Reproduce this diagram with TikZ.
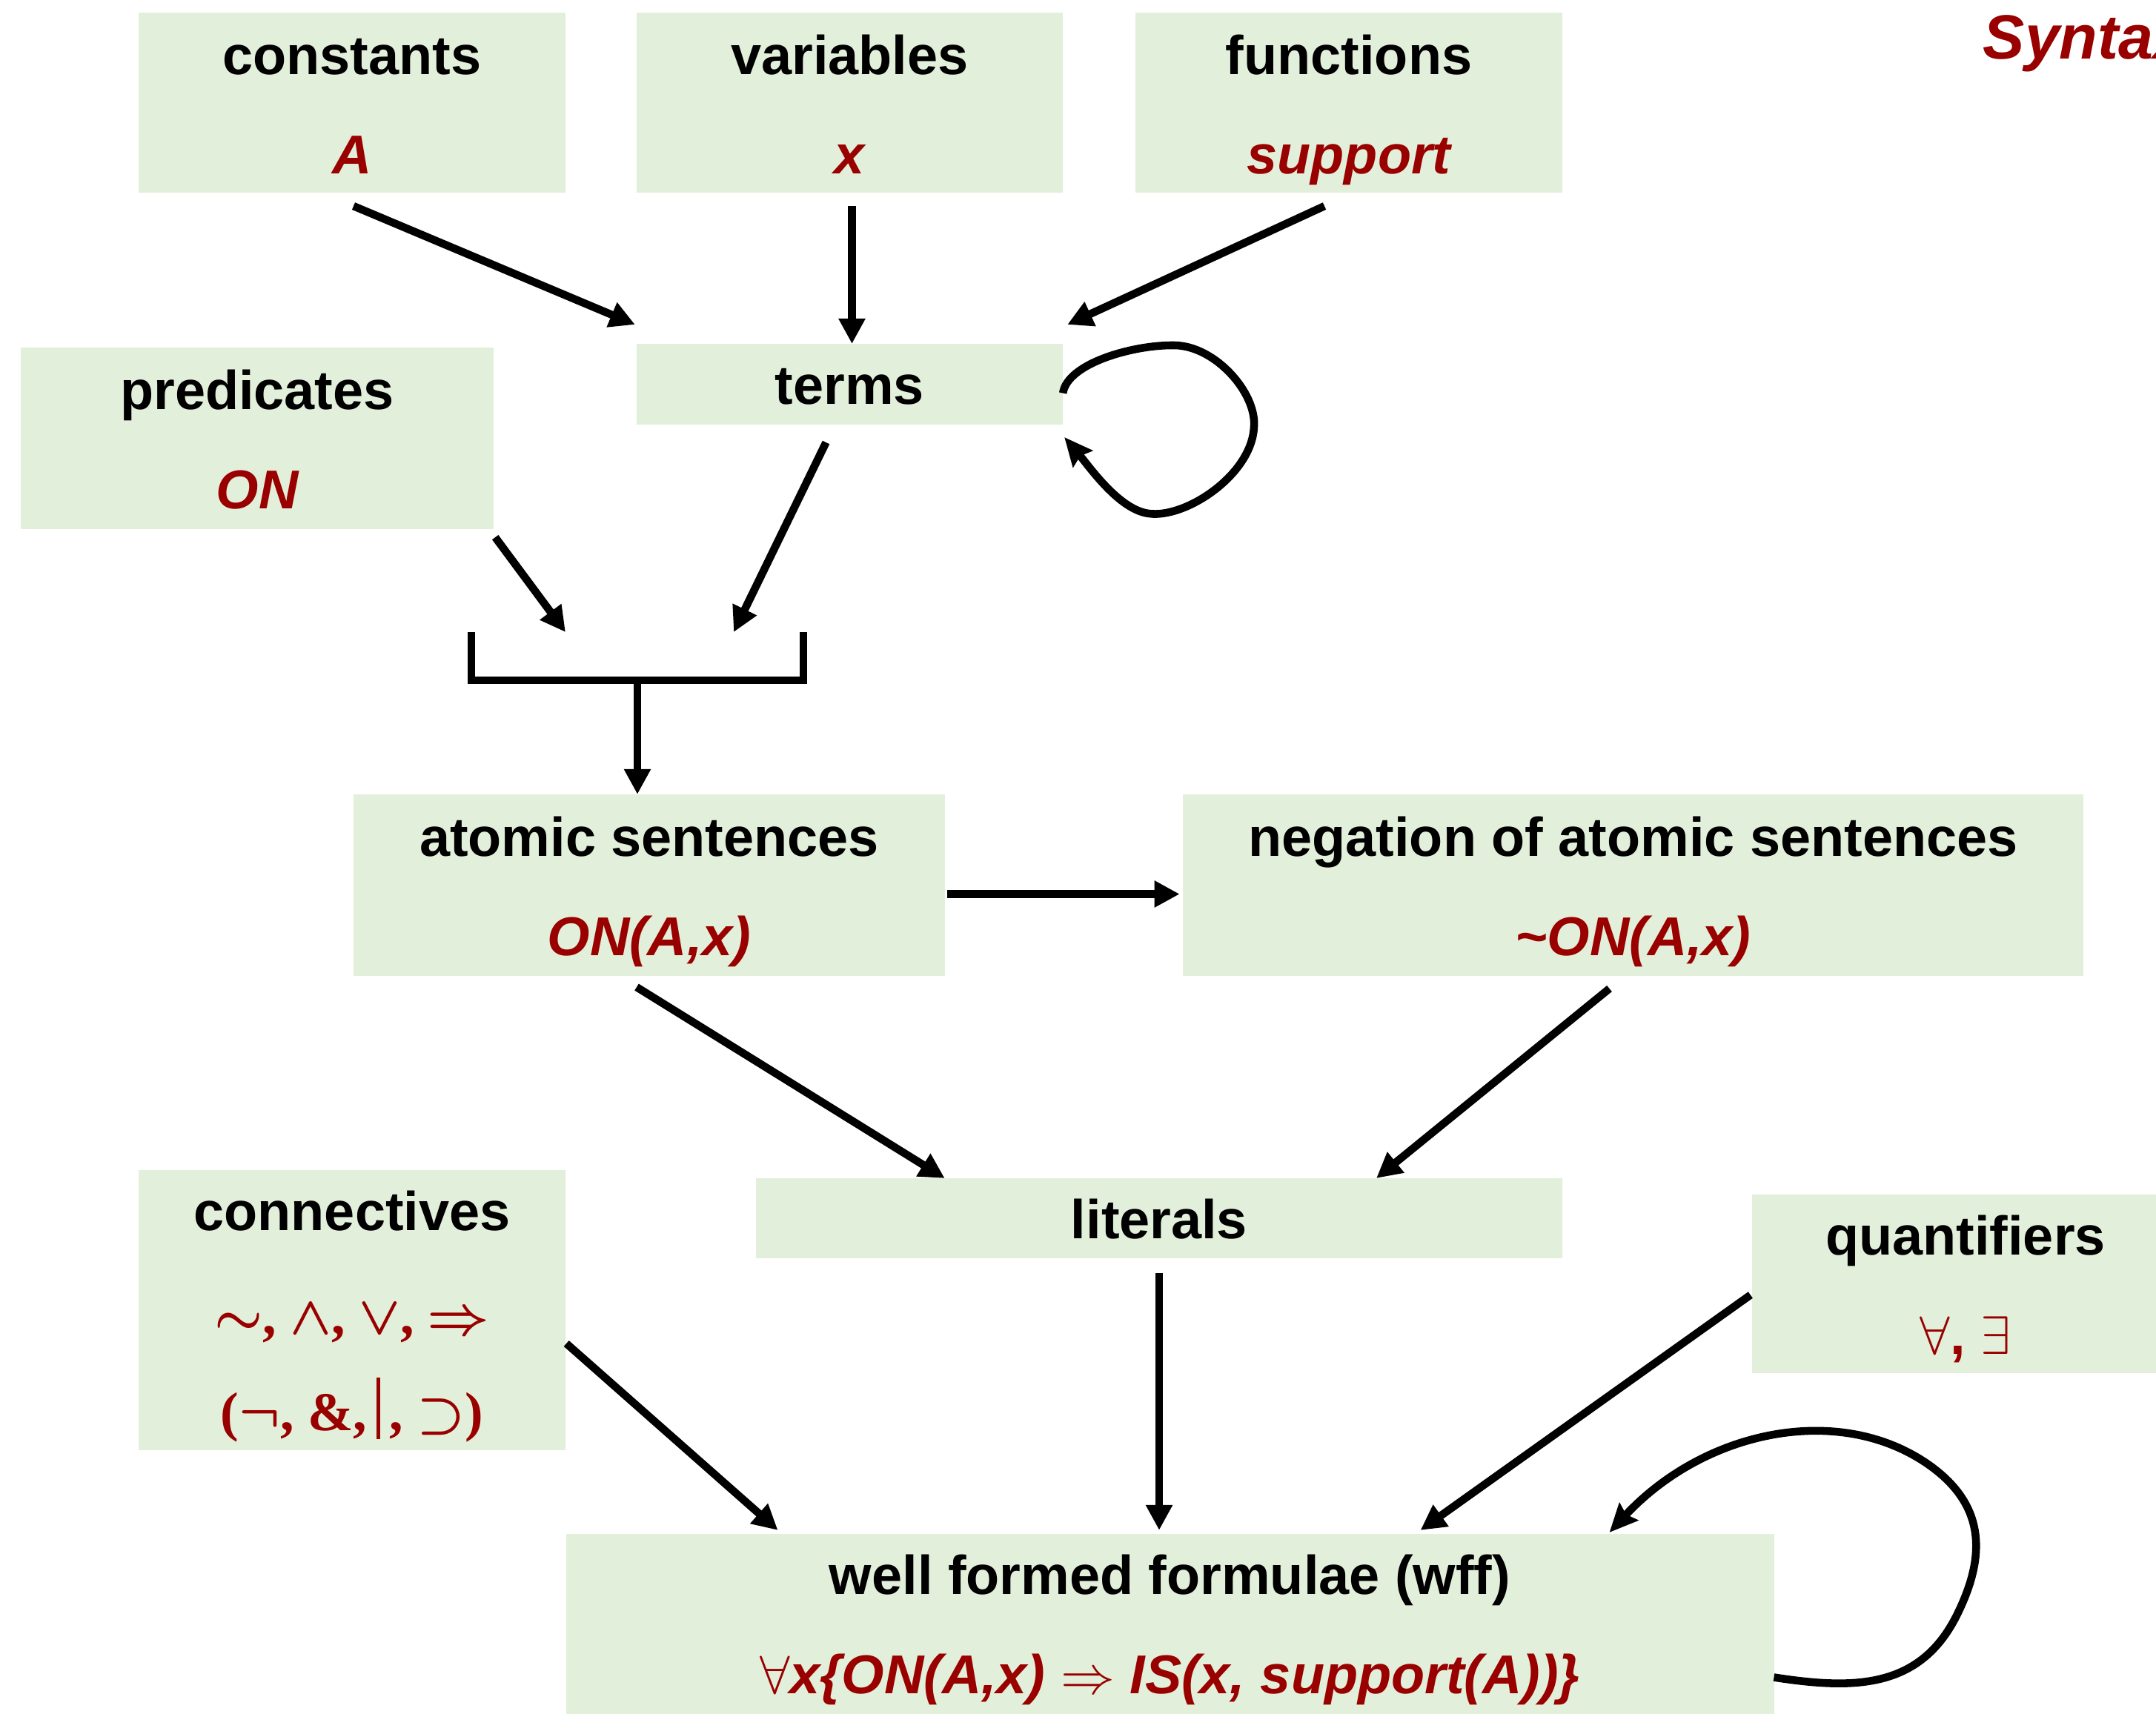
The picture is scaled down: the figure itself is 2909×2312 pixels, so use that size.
\documentclass[tikz,border=0pt]{standalone}
\usepackage{fontspec}
\setmainfont{Liberation Sans}
\newfontfamily\serifface{Liberation Serif}
\usetikzlibrary{calc,arrows.meta}
\definecolor{boxgreen}{HTML}{E2EFDA}
\definecolor{darkred}{HTML}{990000}
\begin{document}
\begin{tikzpicture}[x=0.01cm,y=-0.01cm,
  greenbox/.style={fill=boxgreen, draw=none, inner sep=0pt, outer sep=0pt},
  headtext/.style={anchor=base, inner sep=0pt, font=\fontsize{21}{25}\selectfont\bfseries},
  extext/.style={anchor=base, inner sep=0pt, text=darkred, font=\fontsize{21}{25}\selectfont\bfseries\itshape},
  symtext/.style={anchor=base, inner sep=0pt, text=darkred, font=\fontsize{21}{25}\selectfont\serifface\bfseries\boldmath},
  flowarrow/.style={line width=3pt, -{Triangle[length=0.34cm,width=0.34cm]}},
  selfarrow/.style={line width=3pt, -{Stealth[length=0.38cm,width=0.34cm,inset=0.05cm]}},
]
\useasboundingbox (0,0) rectangle (2909,2312);
\clip (0,0) rectangle (2909,2312);
\fill[white] (0,0) rectangle (2909,2312);

% ---- boxes ----
\node[greenbox, minimum width=5.76cm, minimum height=2.43cm] (constants) at (475,138.5) {};
\node[greenbox, minimum width=5.75cm, minimum height=2.43cm] (variables) at (1146.5,138.5) {};
\node[greenbox, minimum width=5.76cm, minimum height=2.43cm] (functions) at (1820,138.5) {};
\node[greenbox, minimum width=5.75cm, minimum height=1.09cm] (terms) at (1146.5,518.5) {};
\node[greenbox, minimum width=6.38cm, minimum height=2.45cm] (predicates) at (347,591.5) {};
\node[greenbox, minimum width=7.98cm, minimum height=2.45cm] (atomic) at (876,1194.5) {};
\node[greenbox, minimum width=12.15cm, minimum height=2.45cm] (negation) at (2203.5,1194.5) {};
\node[greenbox, minimum width=10.88cm, minimum height=1.08cm] (literals) at (1564,1644) {};
\node[greenbox, minimum width=5.76cm, minimum height=3.78cm] (connectives) at (475,1768) {};
\node[greenbox, minimum width=5.76cm, minimum height=2.41cm] (quantifiers) at (2652,1732.5) {};
\node[greenbox, minimum width=16.29cm, minimum height=2.45cm] (wff) at (1578.5,2192.5) {};

% ---- texts ----
\node[anchor=base west, inner sep=0pt, text=darkred, font=\fontsize{24}{28}\selectfont\bfseries\itshape] (title) at (2675,80) {Syntax};

\node[headtext] (constants-h) at ($(constants.north)+(0,84)$) {constants};
\node[extext] (constants-e) at ($(constants.north)+(0,218)$) {A};
\node[headtext] (variables-h) at ($(variables.north)+(0,84)$) {variables};
\node[extext] (variables-e) at ($(variables.north)+(0,218)$) {x};
\node[headtext] (functions-h) at ($(functions.north)+(0,84)$) {functions};
\node[extext] (functions-e) at ($(functions.north)+(0,218)$) {support};
\node[headtext] (terms-h) at ($(terms.center)+(0,27)$) {terms};
\node[headtext] (predicates-h) at ($(predicates.north)+(0,84)$) {predicates};
\node[extext] (predicates-e) at ($(predicates.north)+(0,218)$) {ON};
\node[headtext] (atomic-h) at ($(atomic.north)+(0,84)$) {atomic sentences};
\node[extext] (atomic-e) at ($(atomic.north)+(0,218)$) {ON(A,x)};
\node[headtext] (negation-h) at ($(negation.north)+(0,84)$) {negation of atomic sentences};
\node[extext] (negation-e) at ($(negation.north)+(0,218)$) {\textasciitilde ON(A,x)};
\node[headtext] (literals-h) at ($(literals.center)+(0,27)$) {literals};
\node[headtext] (connectives-h) at ($(connectives.north)+(0,82)$) {connectives};
\node[symtext] (connectives-a) at ($(connectives.north)+(0,222)$) {$\sim$, $\wedge$, $\vee$, $\Rightarrow$};
\node[symtext] (connectives-b) at ($(connectives.north)+(0,352)$) {($\neg$, \&,\,\rule[-0.15em]{1.5pt}{1.12em}\,, $\supset$)};
\node[headtext] (quantifiers-h) at ($(quantifiers.north)+(0,82)$) {quantifiers};
\node[headtext, text=darkred] (quantifiers-e) at ($(quantifiers.north)+(0,216)$) {$\forall$, $\exists$};
\node[headtext] (wff-h) at ($(wff.north)+(0,82)$) {well formed formulae (wff)};
\node[extext] (wff-e) at ($(wff.north)+(0,216)$) {$\forall$x\{ON(A,x) $\Rightarrow$ IS(x, support(A))\}};

% ---- bracket joining predicates and terms ----
\coordinate (tipL) at (763,853);
\coordinate (tipR) at (990,853);
\coordinate (brL) at (636,853);
\coordinate (brR) at (1084,853);
\coordinate (join) at (860,918);
\draw[line width=3pt] (brL) |- (join) -| (brR);

% ---- connectors ----
\draw[flowarrow] ($(constants.south)+(2,18)$) -- ($(terms.north west)+(-2,-26)$);
\draw[flowarrow] ($(variables.south)+(3,18)$) -- ($(terms.north)+(3,0)$);
\draw[flowarrow] ($(functions.south)+(-33,18)$) -- ($(terms.north east)+(6,-26)$);
\draw[flowarrow] ($(predicates.south east)+(2,11)$) -- (tipL);
\draw[flowarrow] ($(terms.south)+(-32,24)$) -- (tipR);
\draw[flowarrow] (join) -- (join |- atomic.north);
\draw[flowarrow] ($(atomic.east)+(3,12)$) -- ($(negation.west)+(-4,12)$);
\draw[flowarrow] ($(atomic.south)+(-17,15)$) -- ($(literals.north west)+(255,0)$);
\draw[flowarrow] ($(negation.south)+(-32,17)$) -- ($(literals.north)+(293,0)$);
\coordinate (litdrop) at (literals.south |- wff.north);
\draw[flowarrow] ($(literals.south)+(0,20)$) -- ($(litdrop)+(0,-5)$);
\draw[flowarrow] ($(connectives.east)+(1,45)$) -- ($(wff.north west)+(286,-5)$);
\draw[flowarrow] ($(quantifiers.west)+(-2,15)$) -- ($(wff.north west)+(1153,-5)$);

% ---- self loops ----
\coordinate (tout) at ($(terms.east)+(0,12)$);
\coordinate (tin) at ($(terms.south east)+(2,17)$);
\draw[selfarrow] (tout) .. controls (1440,490) and (1530,465) .. (1585,466)
  .. controls (1640,467) and (1695,530) .. (1692,575)
  .. controls (1690,640) and (1600,700) .. (1550,693)
  .. controls (1510,688) and (1470,630) .. (tin);

\coordinate (wout) at ($(wff.east)+(0,71)$);
\coordinate (win) at ($(wff.north west)+(1408,-2)$);
\draw[selfarrow] (wout) .. controls (2500,2280) and (2590,2280) .. (2640,2180)
  .. controls (2680,2100) and (2680,2030) .. (2600,1975)
  .. controls (2480,1893) and (2300,1930) .. (win);
\end{tikzpicture}
\end{document}
